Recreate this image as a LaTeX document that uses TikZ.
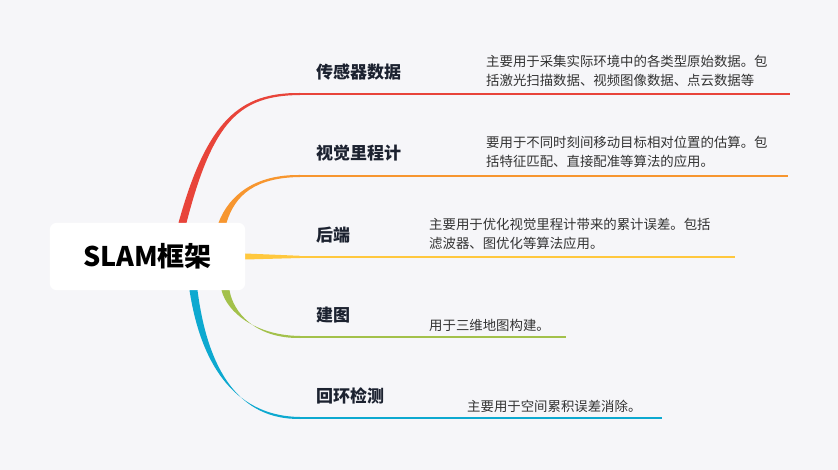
\documentclass[tikz,border=0pt]{standalone}
\usepackage{fontspec}
\setmainfont{Noto Sans CJK SC}
\usetikzlibrary{calc}
\definecolor{bgc}{HTML}{F6F6F9}
\definecolor{redc}{HTML}{E8443A}
\definecolor{orangec}{HTML}{F7962F}
\definecolor{yellowc}{HTML}{FFC83E}
\definecolor{greenc}{HTML}{A3C14B}
\definecolor{bluec}{HTML}{0DA9D0}
\definecolor{topicc}{HTML}{1C2230}
\definecolor{notec}{HTML}{333333}

\begin{document}
\begin{tikzpicture}[x=1pt,y=-1pt]
        \tikzstyle{every node} = [inner sep=0pt]
        \tikzstyle{topic} = [anchor=west, text=topicc, font=\fontsize{17}{20}\selectfont\bfseries]
        \tikzstyle{note} = [anchor=west, align=left, text=notec, font=\fontsize{13.4}{19}\selectfont]
        \fill[bgc] (0,0) rectangle (838,470);
        % branch ends
        \coordinate (s1) at (300,94);  \coordinate (e1) at (790,94);
        \coordinate (s2) at (300,176); \coordinate (e2) at (788,176);
        \coordinate (s3) at (300,257); \coordinate (e3) at (735,257);
        \coordinate (s4) at (300,337); \coordinate (e4) at (566,337);
        \coordinate (s5) at (300,418); \coordinate (e5) at (662,418);
        \node (root) at (147.5,256.5) [minimum width=195, minimum height=67] {};
        \coordinate (r1) at ($(root.north)+(35,0)$);
        \coordinate (r2) at ($(root.north)+(75,0)$);
        \coordinate (r3) at (root.east);
        \coordinate (r4) at ($(root.south)+(78,0)$);
        \coordinate (r5) at ($(root.south)+(46,0)$);
        % curved branches, thick at the root
        \foreach \from/\a/\b/\to/\c in {r1/{210,120}/{240,94}/s1/redc, r2/{232,195}/{255,176}/s2/orangec,
                r4/{230,312}/{255,337}/s4/greenc, r5/{205,372}/{240,418}/s5/bluec}
            \fill[\c] ($(\from)+(-4,0)$) .. controls ($(\a)+(-3,0)$) and ($(\b)+(0,-1.6)$) .. ($(\to)+(0,-1)$)
                -- ($(\to)+(0,1)$) .. controls ($(\b)+(0,1.6)$) and ($(\a)+(3,0)$) .. ($(\from)+(4,0)$) -- cycle;
        \fill[yellowc] ($(r3)+(0,-3)$) -- ($(s3)+(0,-1.2)$) -- ($(s3)+(0,1)$) -- ($(r3)+(0,3)$) -- cycle;
        \foreach \from/\to/\c in {s1/e1/redc, s2/e2/orangec, s3/e3/yellowc, s4/e4/greenc, s5/e5/bluec}
            \draw[\c, line width=2] (\from) -- (\to);
        \fill[white, rounded corners=7] (root.south west) rectangle (root.north east);
        \node at (root) [font=\fontsize{27}{30}\selectfont\bfseries] {SLAM框架};
        % topics and notes
        \node (t1) at (316,72) [topic] {传感器数据};
        \node (t2) at (316,153) [topic] {视觉里程计};
        \node (t3) at (316,235) [topic] {后端};
        \node (t4) at (316,315) [topic] {建图};
        \node (t5) at (316,396) [topic] {回环检测};
        \node (d1) at (486,70.5) [note] {主要用于采集实际环境中的各类型原始数据。包\\括激光扫描数据、视频图像数据、点云数据等};
        \node (d2) at (486,152) [note] {要用于不同时刻间移动目标相对位置的估算。包\\括特征匹配、直接配准等算法的应用。};
        \node (d3) at (429,234) [note] {主要用于优化视觉里程计带来的累计误差。包括\\滤波器、图优化等算法应用。};
        \node (d4) at (429,325) [note] {用于三维地图构建。};
        \node (d5) at (467,406) [note] {主要用于空间累积误差消除。};
\end{tikzpicture}
\end{document}
